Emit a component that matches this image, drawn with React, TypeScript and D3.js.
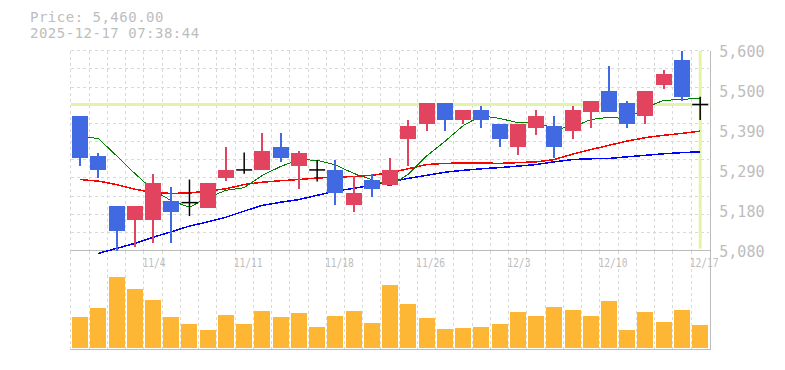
import * as d3 from "d3";
import { useEffect, useRef } from "react";

// trading days shown on the chart
const dates = [
  "10/28", "10/29", "10/30", "10/31", "11/4", "11/5", "11/6", "11/7",
  "11/10", "11/11", "11/12", "11/13", "11/14", "11/17", "11/18", "11/19",
  "11/20", "11/21", "11/25", "11/26", "11/27", "11/28", "12/1", "12/2",
  "12/3", "12/4", "12/5", "12/8", "12/9", "12/10", "12/11", "12/12",
  "12/15", "12/16", "12/17",
];

const openPrices = [
  5430, 5325, 5195, 5160, 5160, 5210, 5205, 5190, 5270, 5290, 5290, 5350,
  5300, 5290, 5290, 5200, 5265, 5250, 5370, 5410, 5465, 5420, 5445, 5410,
  5350, 5400, 5405, 5390, 5440, 5495, 5465, 5430, 5510, 5575, 5460,
];
const highPrices = [
  5430, 5335, 5195, 5195, 5280, 5245, 5265, 5255, 5350, 5335, 5385, 5385,
  5340, 5315, 5315, 5275, 5280, 5320, 5420, 5465, 5465, 5445, 5455, 5410,
  5410, 5445, 5430, 5455, 5470, 5560, 5470, 5495, 5550, 5600, 5480,
];
const lowPrices = [
  5300, 5270, 5080, 5090, 5100, 5100, 5170, 5190, 5260, 5280, 5290, 5310,
  5240, 5260, 5200, 5180, 5220, 5250, 5300, 5390, 5390, 5410, 5400, 5350,
  5330, 5380, 5320, 5370, 5400, 5440, 5400, 5410, 5500, 5470, 5420,
];
const closePrices = [
  5320, 5290, 5130, 5195, 5255, 5180, 5205, 5255, 5290, 5290, 5340, 5320,
  5335, 5290, 5230, 5230, 5240, 5290, 5405, 5465, 5420, 5445, 5420, 5370,
  5410, 5430, 5350, 5445, 5470, 5440, 5410, 5495, 5540, 5480, 5460,
];
const volumes = [
  310000, 400000, 710000, 590000, 480000, 310000, 240000, 180000, 330000,
  240000, 370000, 310000, 350000, 210000, 320000, 370000, 250000, 630000,
  440000, 300000, 190000, 200000, 210000, 240000, 360000, 320000, 410000,
  380000, 320000, 470000, 180000, 360000, 260000, 380000, 230000,
];

// moving averages
const ma5 = [
  5376, 5372, 5327, 5281, 5238, 5210, 5193, 5218, 5237, 5244, 5276, 5299,
  5317, 5315, 5303, 5281, 5265, 5248, 5279, 5326, 5364, 5405, 5431, 5424,
  5413, 5415, 5397, 5401, 5421, 5427, 5423, 5452, 5471, 5473, 5477,
];
const ma25 = [
  5265, 5261, 5252, 5240, 5231, 5229, 5230, 5235, 5241, 5252, 5258, 5262,
  5265, 5269, 5271, 5273, 5276, 5283, 5293, 5304, 5307, 5308, 5308, 5307,
  5309, 5311, 5317, 5331, 5343, 5354, 5365, 5374, 5380, 5385, 5391,
];
const ma75 = [
  null, 5073, 5086, 5099, 5115, 5129, 5144, 5155, 5167, 5183, 5198, 5206,
  5213, 5224, 5235, 5242, 5250, 5259, 5268, 5276, 5284, 5289, 5293, 5296,
  5300, 5304, 5311, 5317, 5319, 5320, 5324, 5328, 5332, 5335, 5337,
];

const xTickLabels = ["11/4", "11/11", "11/18", "11/26", "12/3", "12/10", "12/17"];
const yTickValues = [5080, 5184, 5288, 5392, 5496, 5600];
const yTickLabels = ["5,080", "5,180", "5,290", "5,390", "5,500", "5,600"];

const cursorPrice = 5460;
const cursorDate = "12/17";
const cursorTime = "2025-12-17 07:38:44";

export default function App() {
  const svgRef = useRef<SVGSVGElement>(null);

  useEffect(() => {
    if (!svgRef.current) return;
    const svg = d3.select(svgRef.current);
    svg.selectAll("*").remove();

    const left = 70.9, right = 709.3, top = 50.7, bottom = 250.7, volBottom = 349.5;
    const textColor = "#bdbdbd";
    const gridColor = "#d9d9d9";
    const upColor = "#e2445f";
    const downColor = "#4169e1";
    const mono = "'DejaVu Sans Mono', monospace";

    const x = d3.scaleBand().domain(dates).range([left, right]).padding(0);
    const y = d3.scaleLinear().domain([5080, 5600]).range([bottom, top]);
    const yv = d3.scaleLinear().domain([0, d3.max(volumes) * 1.35]).range([348, 252]);
    const cx = (d: string) => x(d) + x.bandwidth() / 2;
    const half = 8;

    // grid
    const grid = svg.append("g").attr("stroke", gridColor).attr("stroke-dasharray", "3,3")
      .attr("shape-rendering", "crispEdges");
    d3.range(11).forEach(k => {
      const v = 5080 + ((5600 - 5080) / 11) * (11 - k);
      grid.append("line").attr("x1", left).attr("x2", right).attr("y1", y(v)).attr("y2", y(v));
    });
    dates.forEach(d => {
      grid.append("line").attr("x1", x(d)).attr("x2", x(d)).attr("y1", top).attr("y2", bottom);
      grid.append("line").attr("x1", x(d)).attr("x2", x(d)).attr("y1", bottom).attr("y2", volBottom);
    });

    // borders
    const border = svg.append("g").attr("stroke", "#bbbbbb").attr("stroke-width", 1.5)
      .attr("shape-rendering", "crispEdges");
    border.append("line").attr("x1", left).attr("x2", right + 1).attr("y1", bottom).attr("y2", bottom);
    border.append("line").attr("x1", left).attr("x2", right + 1).attr("y1", volBottom).attr("y2", volBottom);
    border.append("line").attr("x1", right + 1).attr("x2", right + 1).attr("y1", top).attr("y2", volBottom);

    // volume
    svg.append("g").selectAll("rect").data(volumes).join("rect")
      .attr("x", (v, i) => cx(dates[i]) - half)
      .attr("width", half * 2)
      .attr("y", v => yv(v))
      .attr("height", v => yv(0) - yv(v))
      .attr("fill", "#fdb734")
      .attr("shape-rendering", "crispEdges");

    // crosshair
    const hair = "#e4f4a6";
    svg.append("line").attr("x1", left).attr("x2", right).attr("y1", y(cursorPrice)).attr("y2", y(cursorPrice))
      .attr("stroke", hair).attr("stroke-width", 3);
    svg.append("line").attr("x1", cx(cursorDate)).attr("x2", cx(cursorDate)).attr("y1", top).attr("y2", bottom - 2)
      .attr("stroke", hair).attr("stroke-width", 3);

    // moving averages
    const line = d3.line<number | null>()
      .defined(v => v != null)
      .x((v, i) => cx(dates[i]))
      .y(v => y(v as number));
    [
      { data: ma75, color: "#0000ff", width: 1.5 },
      { data: ma25, color: "#ff0000", width: 1.5 },
      { data: ma5, color: "#008000", width: 1 },
    ].forEach(s => {
      svg.append("path").attr("d", line(s.data)).attr("fill", "none")
        .attr("stroke", s.color).attr("stroke-width", s.width)
        .attr("shape-rendering", "crispEdges");
    });

    // candles
    const candles = svg.append("g").selectAll("g").data(dates).join("g");
    candles.each(function (d, i) {
      const g = d3.select(this);
      const o = openPrices[i], c = closePrices[i], h = highPrices[i], l = lowPrices[i];
      const xc = cx(d);
      if (o === c) {
        g.append("line").attr("x1", xc).attr("x2", xc).attr("y1", y(h)).attr("y2", y(l))
          .attr("stroke", "#000").attr("stroke-width", 1.5);
        g.append("line").attr("x1", xc - half).attr("x2", xc + half).attr("y1", y(o)).attr("y2", y(o))
          .attr("stroke", "#000").attr("stroke-width", 1.5);
        return;
      }
      const col = c > o ? upColor : downColor;
      g.append("line").attr("x1", xc).attr("x2", xc).attr("y1", y(h)).attr("y2", y(l))
        .attr("stroke", col).attr("stroke-width", 2).attr("shape-rendering", "crispEdges");
      g.append("rect").attr("x", xc - half).attr("width", half * 2)
        .attr("y", y(Math.max(o, c))).attr("height", Math.abs(y(o) - y(c)))
        .attr("fill", col).attr("shape-rendering", "crispEdges");
    });

    // y labels
    svg.append("g").selectAll("text").data(yTickValues).join("text")
      .attr("x", 719.3)
      .attr("y", v => y(v) + 6.6)
      .attr("font-family", mono).attr("font-size", 15).attr("fill", textColor)
      .text((v, i) => yTickLabels[i]);

    // x labels
    svg.append("g").selectAll("text").data(xTickLabels).join("text")
      .attr("x", d => cx(d) - 10.5)
      .attr("y", 266.5)
      .attr("font-family", mono).attr("font-size", 12).attr("fill", textColor)
      .attr("textLength", d => d.length * 5.8).attr("lengthAdjust", "spacingAndGlyphs")
      .text(d => d);

    // header
    svg.append("text").attr("x", 30).attr("y", 22.3)
      .attr("font-family", mono).attr("font-size", 14).attr("letter-spacing", 0.5).attr("fill", textColor)
      .text(`Price: ${d3.format(",.2f")(cursorPrice)}`);
    svg.append("text").attr("x", 30).attr("y", 38.3)
      .attr("font-family", mono).attr("font-size", 14).attr("letter-spacing", 0.5).attr("fill", textColor)
      .text(cursorTime);
  }, []);

  return (
    <svg ref={svgRef} width={785} height={370}
      style={{ position: "absolute", left: 0, top: 0, display: "block" }} />
  );
}
